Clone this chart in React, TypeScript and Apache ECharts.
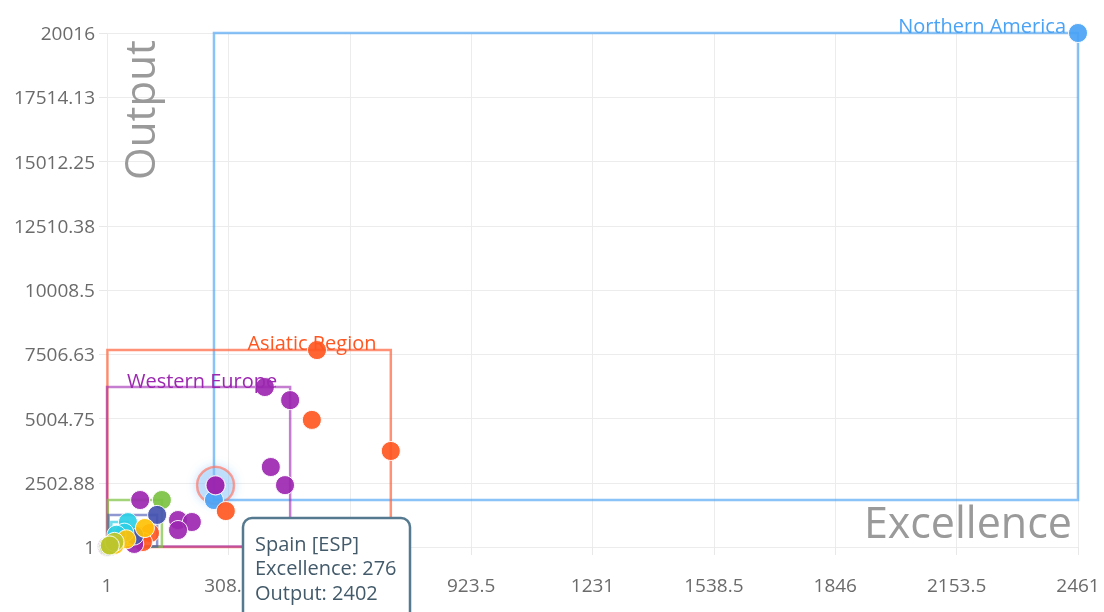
import React, { useEffect, useRef } from "react";
import * as echarts from "echarts";

// ---- data ----
const regionNames = [
  "Northern America",
  "Asiatic Region",
  "Western Europe",
  "Eastern Europe",
  "Latin America",
  "Pacific Region",
  "Middle East",
  "Africa",
];

const northernAmerica = [
  [2461, 20016],
  [272, 1830],
];
const asiaticRegion = [
  [533, 7670],
  [520, 4950],
  [720, 3740],
  [302, 1400],
  [110, 545],
  [59, 350],
  [92, 195],
  [25, 150],
  [2, 1],
];
const westernEurope = [
  [401, 6230],
  [465, 5720],
  [416, 3115],
  [452, 2410],
  [276, 2402],
  [85, 1830],
  [181, 1051],
  [216, 974],
  [181, 662],
  [70, 120],
  [10, 30],
  [1, 20],
];
const easternEurope = [
  [140, 1830],
  [60, 420],
  [30, 250],
  [15, 80],
  [3, 10],
];
const latinAmerica = [
  [128, 1250],
  [70, 450],
  [20, 150],
  [5, 20],
];
const pacificRegion = [
  [54, 970],
  [45, 560],
  [25, 480],
  [12, 100],
];
const middleEast = [
  [97, 740],
  [50, 300],
  [20, 80],
];
const africa = [
  [5, 50],
  [20, 200],
  [8, 60],
];

const regionData = [
  northernAmerica,
  asiaticRegion,
  westernEurope,
  easternEurope,
  latinAmerica,
  pacificRegion,
  middleEast,
  africa,
];

const highlighted = { name: "Spain [ESP]", excellence: 276, output: 2402 };

const xMin = 1;
const xMax = 2461;
const xStep = 307.5;
const yMin = 1;
const yMax = 20016;
const yStep = 2501.875;

// ---- styles ----
const pointColors = ["#4aa3f5", "#ff5722", "#9c27b0", "#7cc242", "#4453b0", "#2ccfe6", "#ffc107", "#bcc52d"];
const boxColors = [
  "rgba(74,163,245,0.65)",
  "rgba(255,100,60,0.7)",
  "rgba(156,39,176,0.6)",
  "rgba(124,194,66,0.7)",
  "rgba(68,83,176,0.6)",
  "rgba(44,207,230,0.7)",
  "rgba(255,193,7,0.7)",
  "rgba(188,197,45,0.7)",
];
const FONT = "Open Sans";

function bbox(pts: number[][]) {
  const xs = pts.map((p) => p[0]);
  const ys = pts.map((p) => p[1]);
  return [
    [Math.min(...xs), Math.min(...ys)],
    [Math.max(...xs), Math.max(...ys)],
  ];
}

const fmt = (v: number) => String(Math.round(v * 100) / 100);

export default function App() {
  const ref = useRef<HTMLDivElement>(null);
  useEffect(() => {
    if (!ref.current) return;
    const chart = echarts.init(ref.current, null, { renderer: "svg" });

    const series: any[] = [
      {
        name: "highlight",
        type: "scatter",
        z: 1,
        silent: true,
        clip: false,
        symbolSize: 37,
        data: [[highlighted.excellence, highlighted.output]],
        itemStyle: {
          color: "rgba(144,200,249,0.45)",
          borderColor: "rgba(255,112,80,0.8)",
          borderWidth: 2.5,
          shadowBlur: 8,
          shadowColor: "rgba(66,165,245,0.6)",
        },
      },
    ];
    regionNames.forEach((name, i) => {
      const b = bbox(regionData[i]);
      series.push({
        name,
        type: "scatter",
        clip: false,
        symbolSize: 19,
        data: regionData[i],
        itemStyle: {
          color: pointColors[i],
          opacity: 0.92,
          borderColor: "#fff",
          borderWidth: 1,
        },
        markArea: {
          silent: true,
          label: { show: false },
          itemStyle: {
            color: "transparent",
            borderColor: boxColors[i],
            borderWidth: 2.5,
          },
          data: [[{ coord: b[0] }, { coord: b[1] }]],
        },
      });
    });
    series.push({
      name: "Spain",
      type: "scatter",
      clip: false,
      symbolSize: 19,
      data: [[highlighted.excellence, highlighted.output]],
      itemStyle: { color: pointColors[2], borderColor: "#fff", borderWidth: 1 },
    });

    const tipLines = [
      highlighted.name,
      "Excellence: " + highlighted.excellence,
      "Output: " + highlighted.output,
    ];

    chart.setOption({
      animation: false,
      grid: { left: 107, right: 26, top: 33, bottom: 65 },
      xAxis: {
        type: "value",
        min: xMin,
        max: xMax,
        interval: xStep,
        axisLine: { show: false },
        axisTick: { show: true, length: 8, lineStyle: { color: "#e8e8e8" } },
        splitLine: { show: true, lineStyle: { color: "#ececec" } },
        axisLabel: { color: "#6b6b6b", fontSize: 19, fontFamily: FONT, margin: 28, formatter: fmt },
      },
      yAxis: {
        type: "value",
        min: yMin,
        max: yMax,
        interval: yStep,
        axisLine: { show: false },
        axisTick: { show: true, length: 8, lineStyle: { color: "#e8e8e8" } },
        splitLine: { show: true, lineStyle: { color: "#ececec" } },
        axisLabel: { color: "#6b6b6b", fontSize: 19, fontFamily: FONT, margin: 12, formatter: fmt },
      },
      series,
      graphic: [
        {
          type: "text",
          x: 138,
          y: 110,
          rotation: Math.PI / 2,
          z: 50,
          style: { text: "Output", fontSize: 42, fontFamily: FONT, fill: "#9a9a9a", align: "center", verticalAlign: "middle" },
        },
        {
          type: "text",
          x: 1072,
          y: 521,
          z: 50,
          style: { text: "Excellence", fontSize: 43, fontFamily: FONT, fill: "#9a9a9a", align: "right", verticalAlign: "middle" },
        },
        {
          type: "text",
          x: 1066,
          y: 25,
          z: 50,
          style: { text: regionNames[0], fontSize: 20, fontFamily: FONT, fill: pointColors[0], align: "right", verticalAlign: "middle" },
        },
        {
          type: "text",
          x: 312,
          y: 342,
          z: 50,
          style: { text: regionNames[1], fontSize: 20, fontFamily: FONT, fill: pointColors[1], align: "center", verticalAlign: "middle" },
        },
        {
          type: "text",
          x: 127,
          y: 380,
          z: 50,
          style: { text: regionNames[2], fontSize: 20, fontFamily: FONT, fill: pointColors[2], align: "left", verticalAlign: "middle" },
        },
        {
          type: "rect",
          z: 100,
          shape: { x: 243, y: 518, width: 167, height: 110, r: 9 },
          style: { fill: "#fff", stroke: "#557a90", lineWidth: 2.5 },
        },
        ...tipLines.map((t, i) => ({
          type: "text",
          x: 255,
          y: 543 + i * 24.5,
          z: 101,
          style: { text: t, fontSize: 20, fontFamily: FONT, fill: "#435a6a", align: "left", verticalAlign: "middle" },
        })),
      ],
    });
    return () => chart.dispose();
  }, []);
  return <div ref={ref} style={{ position: "fixed", left: 0, top: 0, width: 1104, height: 612 }} />;
}
